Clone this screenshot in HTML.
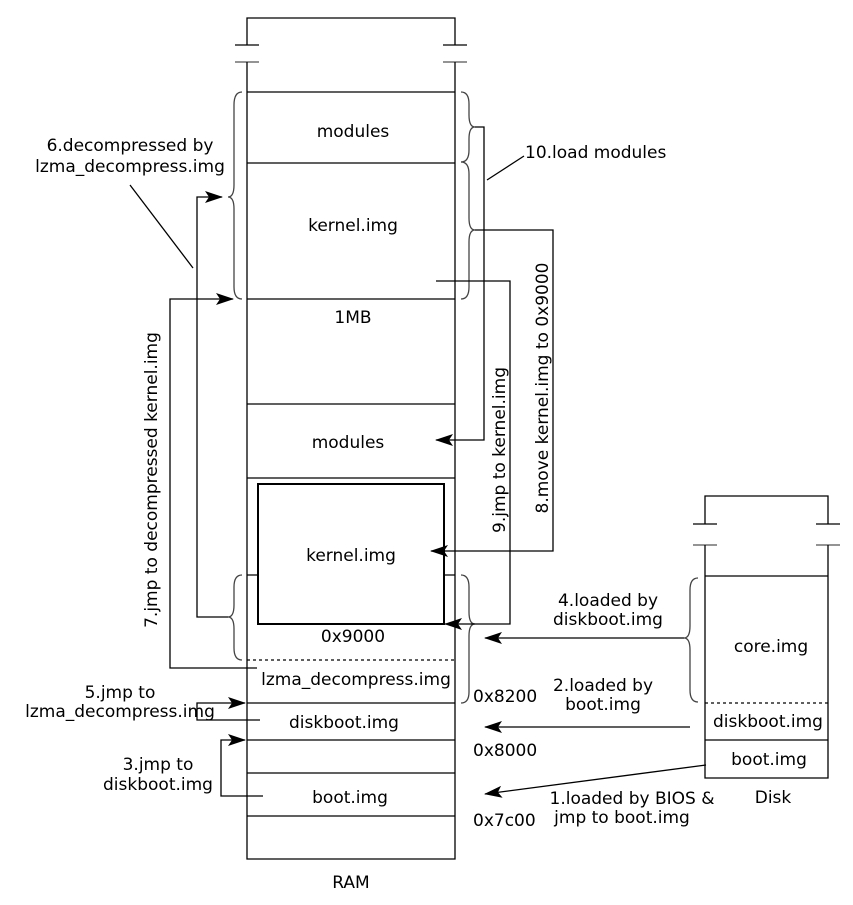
<!DOCTYPE html>
<html><head><style>body{margin:0;background:#fff}svg text{font-family:"DejaVu Sans","Liberation Sans",sans-serif;font-size:17px;fill:#000}</style></head><body>
<svg width="853" height="900" viewBox="0 0 853 900" xmlns="http://www.w3.org/2000/svg">
<defs><marker id="a" markerWidth="18" markerHeight="12" refX="17" refY="6" orient="auto" markerUnits="userSpaceOnUse"><path d="M0,0 L18,6 L0,12 L4,6z" fill="#000"/></marker></defs>
<g stroke="#000" stroke-width="1.3" fill="none">
<path d="M247,45 V18 H455 V45"/>
<path d="M235,45 H259 M443,45 H467"/>
<path d="M235,62 H259 M443,62 H467" stroke="#555"/>
<path d="M247,62 V859 H455 V62"/>
<path d="M247,92 H455 M247,163 H455 M247,299 H455 M247,404 H455 M247,478 H455 M247,703 H455 M247,740 H455 M247,773 H455 M247,816 H455"/>
<path d="M247,660 H455" stroke-dasharray="3,3"/>
<rect x="258" y="484" width="186" height="140" stroke-width="2"/>
<path d="M247,575 H258 M444,575 H455"/>
<path d="M705,524 V496 H828 V524"/>
<path d="M693,524 H717 M816,524 H840"/>
<path d="M693,545 H717 M816,545 H840" stroke="#555"/>
<path d="M705,545 V778 H828 V545"/>
<path d="M705,576 H828 M705,740 H828"/>
<path d="M705,703 H828" stroke-dasharray="3,3"/>
<path d="M242,92 Q234,92 234,105 V185 Q234,197 228,197 Q234,197 234,209 V287 Q234,299 242,299" stroke="#444"/>
<path d="M461,92 Q469,92 469,104 V115 Q469,127 475,127 Q469,127 469,139 V150 Q469,162 461,162" stroke="#444"/>
<path d="M461,162 Q469,162 469,174 V218 Q469,230 475,230 Q469,230 469,242 V287 Q469,299 461,299" stroke="#444"/>
<path d="M242,575 Q234,575 234,587 V605 Q234,617 228,617 Q234,617 234,629 V648 Q234,660 242,660" stroke="#444"/>
<path d="M461,575 Q469,575 469,587 V612 Q469,624 475,624 Q469,624 469,636 V692 Q469,703 461,703" stroke="#444"/>
<path d="M698,578 Q690,578 690,590 V626 Q690,638 684,638 Q690,638 690,650 V690 Q690,702 698,702" stroke="#444"/>
<path d="M475,127 H484 V440 H436" marker-end="url(#a)"/>
<path d="M487,180 L524,156"/>
<path d="M475,230 H553 V551 H431" marker-end="url(#a)"/>
<path d="M436,281 H510 V624 H445" marker-end="url(#a)"/>
<path d="M228,617 H197 V197 H222" marker-end="url(#a)"/>
<path d="M193,268 L130,185"/>
<path d="M257,668 H170 V299 H233" marker-end="url(#a)"/>
<path d="M684,638 H485" marker-end="url(#a)"/>
<path d="M690,727 H485" marker-end="url(#a)"/>
<path d="M706,765 L485,794" marker-end="url(#a)"/>
<path d="M260,720 H197 V703 H245" marker-end="url(#a)"/>
<path d="M263,796 H221 V740 H245" marker-end="url(#a)"/>
</g>
<text x="353" y="137" text-anchor="middle">modules</text>
<text x="353" y="231" text-anchor="middle">kernel.img</text>
<text x="353" y="323" text-anchor="middle">1MB</text>
<text x="348" y="448" text-anchor="middle">modules</text>
<text x="351" y="561" text-anchor="middle">kernel.img</text>
<text x="353" y="642" text-anchor="middle">0x9000</text>
<text x="356" y="685" text-anchor="middle">lzma_decompress.img</text>
<text x="344" y="728" text-anchor="middle">diskboot.img</text>
<text x="350" y="803" text-anchor="middle">boot.img</text>
<text x="351" y="888" text-anchor="middle">RAM</text>
<text x="473" y="702">0x8200</text>
<text x="473" y="756">0x8000</text>
<text x="473" y="826">0x7c00</text>
<text x="771" y="652" text-anchor="middle">core.img</text>
<text x="768" y="727" text-anchor="middle">diskboot.img</text>
<text x="769" y="765" text-anchor="middle">boot.img</text>
<text x="773" y="803" text-anchor="middle">Disk</text>
<text x="130" y="151" text-anchor="middle">6.decompressed by</text>
<text x="130" y="172" text-anchor="middle">lzma_decompress.img</text>
<text x="525" y="158">10.load modules</text>
<text x="608" y="606" text-anchor="middle">4.loaded by</text>
<text x="608" y="625" text-anchor="middle">diskboot.img</text>
<text x="603" y="691" text-anchor="middle">2.loaded by</text>
<text x="603" y="710" text-anchor="middle">boot.img</text>
<text x="632" y="804" text-anchor="middle">1.loaded by BIOS &amp;</text>
<text x="622" y="823" text-anchor="middle">jmp to boot.img</text>
<text x="120" y="698" text-anchor="middle">5.jmp to</text>
<text x="120" y="717" text-anchor="middle">lzma_decompress.img</text>
<text x="158" y="770" text-anchor="middle">3.jmp to</text>
<text x="158" y="790" text-anchor="middle">diskboot.img</text>
<text transform="translate(157,480) rotate(-90)" text-anchor="middle">7.jmp to decompressed kernel.img</text>
<text transform="translate(505,450) rotate(-90)" text-anchor="middle">9.jmp to kernel.img</text>
<text transform="translate(548,388) rotate(-90)" text-anchor="middle">8.move kernel.img to 0x9000</text>
</svg>
</body></html>
